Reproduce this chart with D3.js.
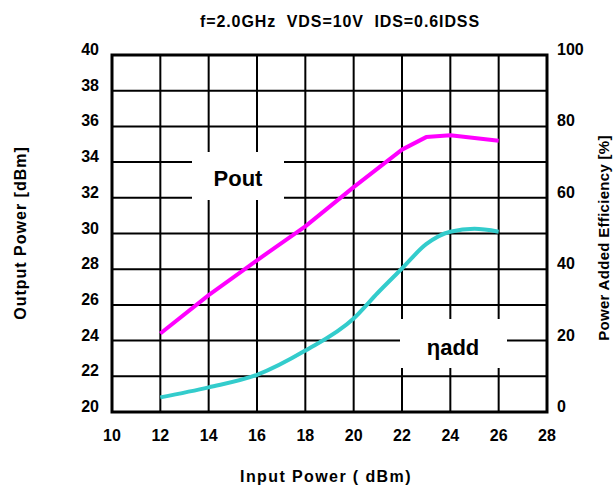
<!DOCTYPE html>
<html><head><meta charset="utf-8">
<script src="https://cdn.jsdelivr.net/npm/d3@7"></script>
<style>
body{margin:0;background:#fff;}
text{font-family:"Liberation Sans",Arial,sans-serif;font-weight:bold;fill:#000;white-space:pre;}
</style></head>
<body><svg id="c" width="613" height="486"></svg>
<script>
const pinX = [12, 14, 16, 18, 20, 22, 23, 24, 26];
const poutY = [24.4, 26.55, 28.5, 30.4, 32.6, 34.7, 35.4, 35.5, 35.2];
const effX = [12, 14, 16, 18, 20, 21, 22, 23, 24, 25, 26];
const effY = [4.1, 6.9, 10.4, 17.2, 26.2, 33.4, 40.2, 47, 50.5, 51.3, 50.5];
const xTicks = [10, 12, 14, 16, 18, 20, 22, 24, 26, 28];
const yLeftTicks = [20, 22, 24, 26, 28, 30, 32, 34, 36, 38, 40];
const yRightTicks = [0, 20, 40, 60, 80, 100];
const title = "f=2.0GHz  VDS=10V  IDS=0.6IDSS";
const xTitle = "Input Power ( dBm)";
const yLeftTitle = "Output Power [dBm]";
const yRightTitle = "Power Added Efficiency [%]";

const svg = d3.select("#c");
const L = 112, R = 547, T = 55, B = 412;
const x = d3.scaleLinear().domain([10, 28]).range([L, R]);
const y = d3.scaleLinear().domain([20, 40]).range([B, T]);
const y2 = d3.scaleLinear().domain([0, 100]).range([B, T]);

// grid
const g = svg.append("g");
g.selectAll(".vx").data(xTicks).enter().append("line")
  .attr("x1", d => x(d)).attr("x2", d => x(d)).attr("y1", T).attr("y2", B)
  .attr("stroke", "#000").attr("stroke-width", 2);
g.selectAll(".hy").data(yLeftTicks).enter().append("line")
  .attr("x1", L).attr("x2", R).attr("y1", d => y(d)).attr("y2", d => y(d))
  .attr("stroke", "#000").attr("stroke-width", 2);
g.append("rect").attr("x", L).attr("y", T).attr("width", R - L).attr("height", B - T)
  .attr("fill", "none").attr("stroke", "#000").attr("stroke-width", 3);

// label boxes
svg.append("rect").attr("x", 192).attr("y", 152).attr("width", 92).attr("height", 48).attr("fill", "#fff");
svg.append("rect").attr("x", 400).attr("y", 319).attr("width", 107).attr("height", 49).attr("fill", "#fff");

// curves
const line1 = d3.line().x((d, i) => x(pinX[i])).y(d => y(d));
svg.append("path").attr("d", line1(poutY)).attr("fill", "none")
  .attr("stroke", "#FF00FF").attr("stroke-width", 4).attr("stroke-linejoin", "round");
const line2 = d3.line().x((d, i) => x(effX[i])).y(d => y2(d)).curve(d3.curveMonotoneX);
svg.append("path").attr("d", line2(effY)).attr("fill", "none")
  .attr("stroke", "#33CCCC").attr("stroke-width", 4).attr("stroke-linejoin", "round");

svg.append("text").attr("x", 238).attr("y", 186).attr("text-anchor", "middle")
  .style("font-size", "22px").text("Pout");
svg.append("text").attr("x", 453).attr("y", 355).attr("text-anchor", "middle")
  .style("font-size", "22px").text("ηadd");

// tick labels
svg.selectAll(".yl").data(yLeftTicks).enter().append("text")
  .attr("x", 99).attr("y", d => y(d)).attr("text-anchor", "end")
  .style("font-size", "16px").text(d => d);
svg.selectAll(".yr").data(yRightTicks).enter().append("text")
  .attr("x", 557).attr("y", d => y2(d)).attr("text-anchor", "start")
  .style("font-size", "16px").text(d => d);
svg.selectAll(".xl").data(xTicks).enter().append("text")
  .attr("x", d => x(d)).attr("y", 441).attr("text-anchor", "middle")
  .style("font-size", "16px").text(d => d);

// titles
svg.append("text").attr("x", 340).attr("y", 27).attr("text-anchor", "middle")
  .style("font-size", "16px").style("letter-spacing", "0.9px").text(title);
svg.append("text").attr("x", 326).attr("y", 482).attr("text-anchor", "middle")
  .style("font-size", "16px").style("letter-spacing", "1.4px").text(xTitle);
svg.append("text").attr("transform", "translate(26,233) rotate(-90)").attr("text-anchor", "middle")
  .style("font-size", "16px").style("letter-spacing", "1px").text(yLeftTitle);
svg.append("text").attr("transform", "translate(609,238) rotate(-90)").attr("text-anchor", "middle")
  .style("font-size", "15px").style("letter-spacing", "0.3px").text(yRightTitle);
</script></body></html>
